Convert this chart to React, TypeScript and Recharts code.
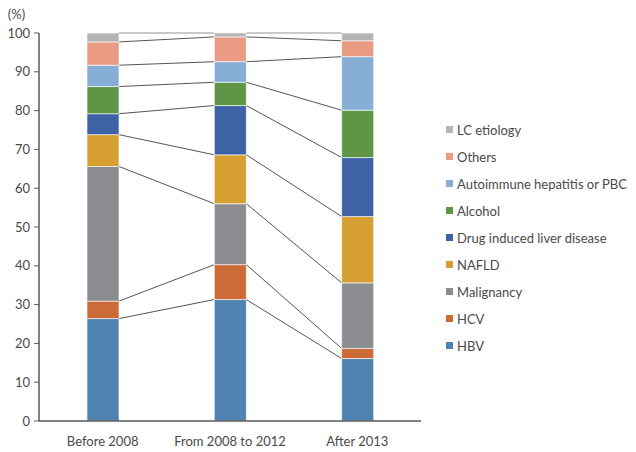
import { BarChart, Bar, XAxis, YAxis, Legend } from 'recharts'

// Share of cirrhosis etiologies per period (%).
const CATEGORIES = ['Before 2008', 'From 2008 to 2012', 'After 2013']
const HBV = [26.4, 31.3, 16.1]
const HCV = [4.5, 9.0, 2.6]
const MALIGNANCY = [34.7, 15.7, 16.9]
const NAFLD = [8.2, 12.6, 17.1]
const DRUG = [5.4, 12.7, 15.2]
const ALCOHOL = [7.0, 6.0, 12.2]
const AUTOIMMUNE = [5.5, 5.3, 13.8]
const OTHERS = [6.0, 6.4, 4.1]
const LC = [2.3, 1.0, 2.0]
const Y_TICKS = [0, 10, 20, 30, 40, 50, 60, 70, 80, 90, 100]

// bottom of the stack first
const SERIES = [
  { key: 'hbv', name: 'HBV', values: HBV, color: '#4e83b1' },
  { key: 'hcv', name: 'HCV', values: HCV, color: '#cd6b37' },
  { key: 'malignancy', name: 'Malignancy', values: MALIGNANCY, color: '#8b8c90' },
  { key: 'nafld', name: 'NAFLD', values: NAFLD, color: '#d69f31' },
  { key: 'drug', name: 'Drug induced liver disease', values: DRUG, color: '#3d63a6' },
  { key: 'alcohol', name: 'Alcohol', values: ALCOHOL, color: '#5f9646' },
  { key: 'autoimmune', name: 'Autoimmune hepatitis or PBC', values: AUTOIMMUNE, color: '#86add6' },
  { key: 'others', name: 'Others', values: OTHERS, color: '#e99b84' },
  { key: 'lc', name: 'LC etiology', values: LC, color: '#b5b5b7' },
]

const FONT = 'Lato, "Open Sans", sans-serif'
const TEXT = '#4a4a4a'
const W = 636
const H = 452
const MARGIN = { top: 33, right: 25, left: 0, bottom: 1 }
const Y_WIDTH = 39
const LEGEND_W = 190
const PLOT_W = W - MARGIN.left - MARGIN.right - Y_WIDTH - LEGEND_W
const STEP = PLOT_W / CATEGORIES.length

const data = CATEGORIES.map((name, i) => {
  const row: Record<string, number | string> = { name }
  let cum = 0
  SERIES.forEach((s) => {
    row[s.key] = s.values[i]
    cum += s.values[i]
    row[s.key + 'Top'] = cum
  })
  return row
})

// Segment rect plus a connector from its top edge to the same boundary in the next bar.
function makeShape(key: string, last: boolean) {
  return function SegmentShape(props: any) {
    const { x, y, width, height, fill, index, payload } = props
    const value = payload[key] as number
    const ratio = value > 0 ? height / value : 0
    const next = data[index + 1]
    let connector = null
    if (next && ratio > 0) {
      const dy = ((next[key + 'Top'] as number) - (payload[key + 'Top'] as number)) * ratio
      connector = (
        <line
          x1={x + width}
          y1={y}
          x2={x + STEP}
          y2={y - dy}
          stroke={last ? '#c9c9c9' : '#555555'}
          strokeWidth={last ? 2 : 1}
        />
      )
    }
    return (
      <g>
        <rect x={x} y={y} width={width} height={height} fill={fill} stroke="#ffffff" strokeOpacity={0.6} strokeWidth={1} />
        {connector}
      </g>
    )
  }
}

function LegendList() {
  return (
    <ul style={{ listStyle: 'none', margin: 0, padding: 0, fontFamily: FONT, fontSize: 13, color: TEXT }}>
      {[...SERIES].reverse().map((s) => (
        <li key={s.key} style={{ display: 'flex', alignItems: 'center', height: 27 }}>
          <span style={{ width: 7, height: 7, background: s.color, marginRight: 4, flexShrink: 0 }} />
          <span>{s.name}</span>
        </li>
      ))}
    </ul>
  )
}

export default function App() {
  return (
    <div style={{ position: 'absolute', left: 0, top: 0, background: '#fff' }}>
      <BarChart width={W} height={H} data={data} margin={MARGIN} barSize={32}>
        <XAxis
          dataKey="name"
          axisLine={{ stroke: '#5a5a5a', strokeWidth: 1.5 }}
          tickLine={false}
          height={30}
          tick={{ fill: TEXT, fontSize: 13, fontFamily: FONT }}
          tickMargin={10}
        />
        <YAxis
          width={Y_WIDTH}
          domain={[0, 100]}
          ticks={Y_TICKS}
          interval={0}
          axisLine={{ stroke: '#5a5a5a', strokeWidth: 1.5 }}
          tickLine={{ stroke: '#5a5a5a' }}
          tickSize={5}
          tickMargin={4}
          tick={{ fill: TEXT, fontSize: 13, fontFamily: FONT }}
          label={{ value: '(%)', position: 'top', offset: 14, dx: -3, fill: TEXT, fontSize: 13, fontFamily: FONT }}
        />
        <Legend
          layout="vertical"
          align="right"
          verticalAlign="middle"
          width={LEGEND_W}
          content={<LegendList />}
          wrapperStyle={{ left: 446, top: 116, width: LEGEND_W }}
        />
        {SERIES.map((s, i) => (
          <Bar
            key={s.key}
            dataKey={s.key}
            name={s.name}
            stackId="a"
            fill={s.color}
            isAnimationActive={false}
            shape={makeShape(s.key, i === SERIES.length - 1)}
          />
        ))}
      </BarChart>
    </div>
  )
}
